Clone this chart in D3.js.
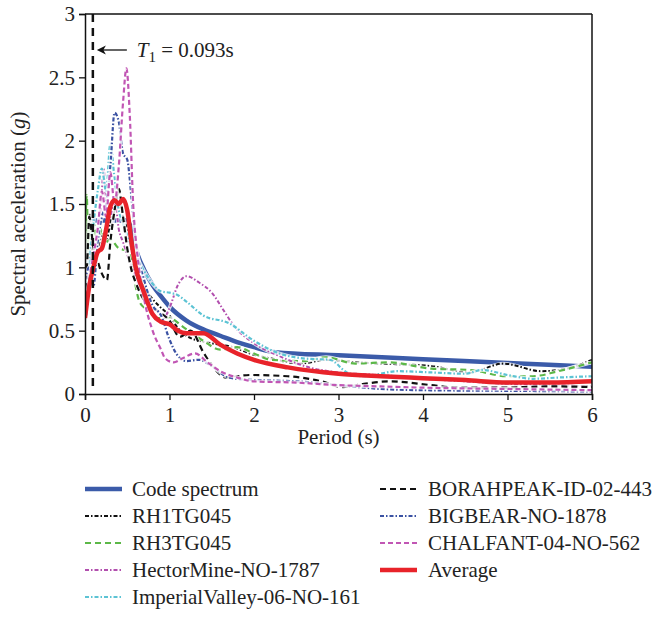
<!DOCTYPE html>
<meta charset="utf-8">
<script src="https://d3js.org/d3.v7.min.js"></script>
<style>
  body { margin: 0; background: #fff; }
  text { font-family: "Liberation Serif", "DejaVu Serif", serif; fill: #222; }
</style>
<div id="chart"></div>
<script>
// ---- data: [period (s), spectral acceleration (g)] ----
var codeSpectrum = [[0,0.62],[0.1,1.37],[0.5,1.37],[0.55,1.3],[0.6,1.15],[0.7,0.98],[0.8,0.86],[0.9,0.77],[1.0,0.69],[1.2,0.58],[1.4,0.51],[1.6,0.46],[1.8,0.41],[2.0,0.37],[2.25,0.33],[3.0,0.305],[4.0,0.275],[5.0,0.245],[6.0,0.215]];
var rh1 = [[0,0.7],[0.03,1.2],[0.05,1.42],[0.08,1.2],[0.1,1.1],[0.15,1.15],[0.2,1.25],[0.25,1.2],[0.3,1.35],[0.35,1.45],[0.4,1.6],[0.45,1.4],[0.5,1.3],[0.55,1.15],[0.6,1.05],[0.7,0.85],[0.8,0.75],[0.9,0.68],[1.0,0.62],[1.1,0.52],[1.2,0.46],[1.35,0.42],[1.5,0.4],[1.75,0.37],[2.0,0.31],[2.2,0.28],[2.55,0.24],[2.85,0.27],[3.2,0.25],[3.5,0.24],[4.1,0.22],[4.55,0.17],[4.95,0.24],[5.4,0.18],[5.7,0.2],[6.0,0.27]];
var rh3 = [[0,1.05],[0.02,1.57],[0.04,1.1],[0.06,1.3],[0.08,1.2],[0.1,1.35],[0.15,1.2],[0.2,1.3],[0.25,1.2],[0.3,1.22],[0.4,1.15],[0.5,1.13],[0.55,1.05],[0.6,0.85],[0.65,0.72],[0.75,0.66],[0.85,0.6],[1.0,0.6],[1.16,0.53],[1.4,0.42],[1.6,0.35],[1.8,0.37],[2.0,0.32],[2.2,0.27],[2.6,0.26],[2.85,0.29],[3.2,0.24],[3.6,0.25],[4.1,0.2],[4.55,0.19],[5.0,0.14],[5.3,0.14],[5.6,0.18],[6.0,0.25]];
var hectorMine = [[0,0.7],[0.05,0.9],[0.1,1.0],[0.15,1.25],[0.2,1.6],[0.22,1.78],[0.25,1.5],[0.3,1.4],[0.35,1.55],[0.4,1.3],[0.45,1.2],[0.5,1.1],[0.6,0.92],[0.7,0.75],[0.8,0.62],[0.9,0.57],[1.0,0.68],[1.1,0.86],[1.2,0.93],[1.35,0.88],[1.5,0.8],[1.65,0.65],[1.75,0.55],[2.0,0.4],[2.3,0.3],[2.6,0.22],[3.0,0.17],[3.5,0.15],[4.0,0.12],[4.5,0.1],[5.0,0.08],[5.5,0.07],[6.0,0.06]];
var imperialValley = [[0,0.8],[0.05,1.1],[0.1,1.35],[0.15,1.6],[0.2,1.78],[0.25,1.6],[0.3,1.97],[0.35,1.7],[0.4,1.45],[0.45,1.35],[0.5,1.25],[0.6,1.1],[0.7,0.97],[0.8,0.87],[0.9,0.81],[1.0,0.8],[1.1,0.78],[1.2,0.73],[1.4,0.62],[1.7,0.56],[2.0,0.42],[2.3,0.32],[2.6,0.28],[2.9,0.27],[3.1,0.17],[3.3,0.14],[3.7,0.18],[4.1,0.17],[4.5,0.16],[4.7,0.19],[5.0,0.15],[5.3,0.12],[5.6,0.13],[6.0,0.14]];
var borahPeak = [[0,0.75],[0.03,1.1],[0.05,1.4],[0.1,1.15],[0.15,1.05],[0.2,0.95],[0.26,0.9],[0.3,1.2],[0.35,1.45],[0.4,1.62],[0.45,1.4],[0.5,1.15],[0.55,0.98],[0.6,0.88],[0.7,0.74],[0.85,0.66],[1.0,0.58],[1.12,0.45],[1.25,0.5],[1.4,0.33],[1.52,0.21],[1.67,0.13],[1.95,0.15],[2.4,0.14],[2.8,0.1],[3.05,0.055],[3.3,0.08],[3.6,0.1],[4.1,0.07],[4.4,0.05],[4.9,0.05],[5.5,0.06],[6.0,0.055]];
var bigBear = [[0,0.9],[0.05,1.0],[0.1,0.85],[0.15,1.2],[0.2,1.4],[0.25,1.5],[0.3,1.8],[0.35,2.22],[0.4,2.15],[0.45,1.9],[0.5,1.85],[0.55,1.55],[0.6,1.2],[0.7,0.9],[0.8,0.7],[0.9,0.62],[1.0,0.43],[1.1,0.3],[1.2,0.26],[1.35,0.27],[1.5,0.22],[1.7,0.13],[2.0,0.11],[2.5,0.1],[3.0,0.07],[3.5,0.04],[4.0,0.03],[5.0,0.025],[6.0,0.02]];
var chalfant = [[0,0.65],[0.05,0.9],[0.1,1.1],[0.15,1.3],[0.2,1.6],[0.25,1.4],[0.3,1.75],[0.35,1.5],[0.4,1.8],[0.45,2.3],[0.49,2.57],[0.53,2.2],[0.57,1.5],[0.62,1.1],[0.7,0.75],[0.8,0.5],[0.9,0.35],[0.95,0.28],[1.05,0.25],[1.15,0.28],[1.3,0.32],[1.45,0.25],[1.6,0.18],[1.8,0.13],[2.0,0.1],[2.5,0.09],[3.0,0.07],[3.5,0.06],[4.0,0.05],[5.0,0.04],[6.0,0.03]];
var average = [[0,0.6],[0.05,0.85],[0.1,1.0],[0.15,1.12],[0.2,1.15],[0.25,1.3],[0.3,1.48],[0.35,1.53],[0.4,1.5],[0.45,1.54],[0.5,1.45],[0.55,1.2],[0.6,1.0],[0.7,0.8],[0.8,0.63],[0.9,0.57],[1.0,0.55],[1.1,0.5],[1.2,0.48],[1.4,0.48],[1.6,0.39],[1.8,0.32],[2.0,0.27],[2.4,0.21],[3.0,0.16],[3.5,0.14],[4.0,0.125],[4.5,0.11],[5.0,0.09],[5.5,0.09],[6.0,0.1]];

var xTicks = [0, 1, 2, 3, 4, 5, 6];
var yTicks = [0, 0.5, 1, 1.5, 2, 2.5, 3];
var T1 = 0.093;

// series drawn back to front, with line styles
var series = [
  {name: "Code spectrum", data: codeSpectrum, color: "#3b5ba9", width: 4.5, dash: null},
  {name: "RH1TG045", data: rh1, color: "#111", width: 2, dash: "4,2,1.5,2"},
  {name: "RH3TG045", data: rh3, color: "#5cb848", width: 2.2, dash: "6,4"},
  {name: "HectorMine-NO-1787", data: hectorMine, color: "#b24fae", width: 2, dash: "4,2,1.5,2"},
  {name: "ImperialValley-06-NO-161", data: imperialValley, color: "#5cc3d4", width: 2.2, dash: "4,2,1.5,2"},
  {name: "BORAHPEAK-ID-02-443", data: borahPeak, color: "#111", width: 2.2, dash: "6,4"},
  {name: "BIGBEAR-NO-1878", data: bigBear, color: "#3b52a3", width: 2.2, dash: "4,2,1.5,2"},
  {name: "CHALFANT-04-NO-562", data: chalfant, color: "#c156b4", width: 2.2, dash: "5,3"},
  {name: "Average", data: average, color: "#e8232a", width: 4.5, dash: null}
];
var legendCol1 = ["Code spectrum", "RH1TG045", "RH3TG045", "HectorMine-NO-1787", "ImperialValley-06-NO-161"];
var legendCol2 = ["BORAHPEAK-ID-02-443", "BIGBEAR-NO-1878", "CHALFANT-04-NO-562", "Average"];

var W = 666, H = 618;
var margin = {top: 14, left: 85, right: 74, bottom: 224};
var width = W - margin.left - margin.right,
    height = H - margin.top - margin.bottom;

var svg = d3.select("#chart").append("svg")
  .attr("width", W).attr("height", H);
var g = svg.append("g")
  .attr("transform", "translate(" + margin.left + "," + margin.top + ")");

var x = d3.scaleLinear().domain([0, 6]).range([0, width]);
var y = d3.scaleLinear().domain([0, 3]).range([height, 0]);

g.append("defs").append("clipPath").attr("id", "clip")
  .append("rect").attr("width", width).attr("height", height);

var line = d3.line()
  .x(function(d) { return x(d[0]); })
  .y(function(d) { return y(d[1]); })
  .curve(d3.curveMonotoneX);

var plot = g.append("g").attr("clip-path", "url(#clip)");
series.forEach(function(s) {
  // thin white halo under the dashed records, like the printed figure
  if (s.dash) {
    plot.append("path")
      .datum(s.data)
      .attr("fill", "none")
      .attr("stroke", "#fff")
      .attr("stroke-opacity", 0.8)
      .attr("stroke-width", s.width + 1.6)
      .attr("stroke-linejoin", "round")
      .attr("d", line);
  }
  plot.append("path")
    .datum(s.data)
    .attr("fill", "none")
    .attr("stroke", s.color)
    .attr("stroke-width", s.width)
    .attr("stroke-dasharray", s.dash)
    .attr("stroke-linejoin", "round")
    .attr("d", line);
});

// T1 marker
g.append("line")
  .attr("x1", x(T1)).attr("x2", x(T1))
  .attr("y1", y(3)).attr("y2", y(0.04))
  .attr("stroke", "#111").attr("stroke-width", 2.5)
  .attr("stroke-dasharray", "8,6");

// frame (top and right)
g.append("line").attr("x1", 0).attr("x2", width).attr("y1", 0).attr("y2", 0)
  .attr("stroke", "#111").attr("stroke-width", 1.5);
g.append("line").attr("x1", width).attr("x2", width).attr("y1", 0).attr("y2", height)
  .attr("stroke", "#111").attr("stroke-width", 1.5);

// axes
var xAxis = g.append("g").attr("transform", "translate(0," + height + ")")
  .call(d3.axisBottom(x).tickValues(xTicks).tickSize(6).tickPadding(4).tickFormat(d3.format("d")));
var yAxis = g.append("g")
  .call(d3.axisLeft(y).tickValues(yTicks).tickSize(6).tickPadding(4).tickFormat(function(d) { return d; }));
[xAxis, yAxis].forEach(function(a) {
  a.select(".domain").attr("stroke", "#111").attr("stroke-width", 1.5);
  a.selectAll(".tick line").attr("stroke", "#111").attr("stroke-width", 1.3);
  a.selectAll(".tick text").style("font-family", "Liberation Serif, serif")
    .style("font-size", "21px").attr("fill", "#222");
});
xAxis.selectAll(".tick text").attr("dy", "0.85em");

// axis titles
g.append("text")
  .attr("x", width / 2).attr("y", height + 50)
  .attr("text-anchor", "middle").style("font-size", "21px")
  .text("Period (s)");
var yt = g.append("text")
  .attr("transform", "translate(-60," + (height / 2 + 10) + ") rotate(-90)")
  .attr("text-anchor", "middle").style("font-size", "21px");
yt.append("tspan").text("Spectral acceleration (");
yt.append("tspan").style("font-style", "italic").text("g");
yt.append("tspan").text(")");

// annotation for T1
var ay = 36;
g.append("line")
  .attr("x1", x(T1) + 34).attr("x2", x(T1) + 6)
  .attr("y1", ay).attr("y2", ay)
  .attr("stroke", "#111").attr("stroke-width", 1.3);
g.append("path")
  .attr("d", "M" + (x(T1) + 4) + "," + ay + "l9,-4.5l-2.5,4.5l2.5,4.5z")
  .attr("fill", "#111");
var at = g.append("text")
  .attr("x", x(T1) + 44).attr("y", ay + 7)
  .style("font-size", "21px");
at.append("tspan").style("font-style", "italic").text("T");
at.append("tspan").attr("dy", 5).style("font-size", "15px").text("1");
at.append("tspan").attr("dy", -5).text(" = 0.093s");

// legend
var byName = {};
series.forEach(function(s) { byName[s.name] = s; });
function drawLegend(names, x0, textX) {
  names.forEach(function(n, i) {
    var s = byName[n];
    var ly = 489 + i * 27;
    svg.append("line")
      .attr("x1", x0).attr("x2", x0 + 37)
      .attr("y1", ly).attr("y2", ly)
      .attr("stroke", s.color)
      .attr("stroke-width", s.dash ? 2 : 4.5)
      .attr("stroke-dasharray", s.dash);
    svg.append("text")
      .attr("x", textX).attr("y", ly + 7)
      .style("font-size", "21px")
      .text(n);
  });
}
drawLegend(legendCol1, 85, 132);
drawLegend(legendCol2, 380, 428);
</script>
